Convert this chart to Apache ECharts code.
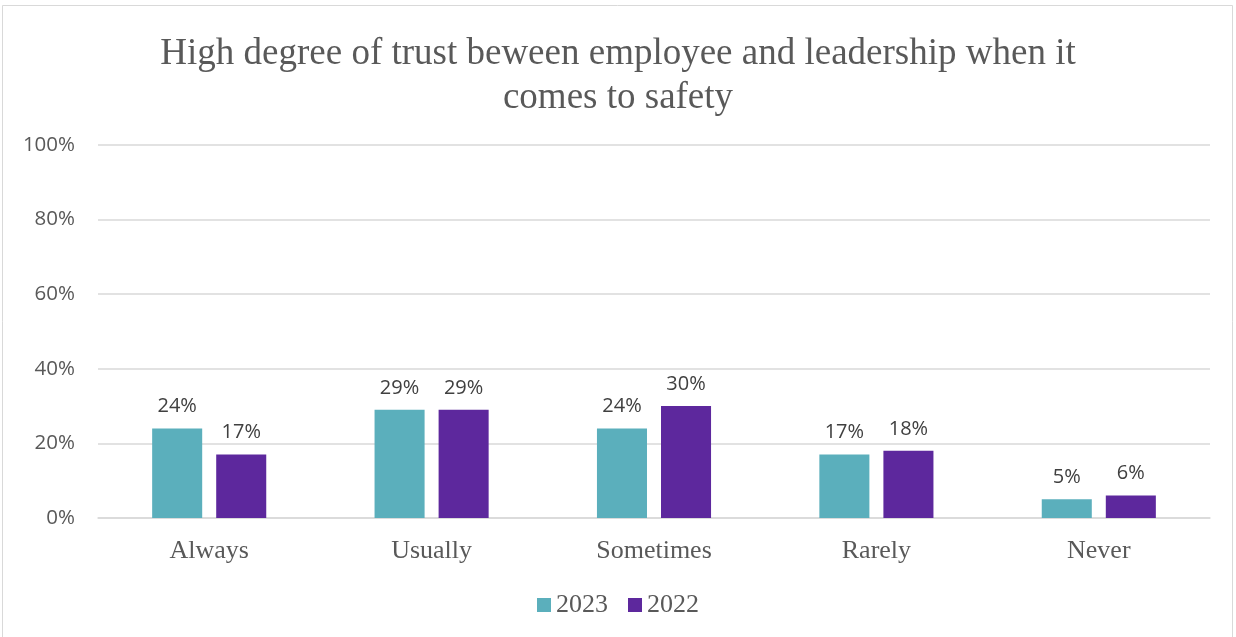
<!DOCTYPE html>
<html>
<head>
<meta charset="utf-8">
<script src="https://cdn.jsdelivr.net/npm/echarts@6/dist/echarts.min.js"></script>
<style>
  html, body { margin: 0; padding: 0; background: #fff; }
  #chart { width: 1236px; height: 637px; }
</style>
</head>
<body>
<div id="chart"></div>
<script>
const categories = ['Always', 'Usually', 'Sometimes', 'Rarely', 'Never'];
const values2023 = [24, 29, 24, 17, 5];
const values2022 = [17, 29, 30, 18, 6];
const yTicks = [0, 20, 40, 60, 80, 100];

const serif = '"Liberation Serif", "DejaVu Serif", serif';
const sans = '"Open Sans", "Liberation Sans", sans-serif';

const chart = echarts.init(document.getElementById('chart'));

const labelStyle = {
  show: true,
  position: 'top',
  distance: 12,
  fontFamily: sans,
  fontSize: 20,
  color: '#404040',
  formatter: p => p.value + '%'
};

chart.setOption({
  animation: false,
  backgroundColor: '#fff',
  graphic: [{
    type: 'rect',
    shape: { x: 2.5, y: 5.5, width: 1230, height: 640 },
    style: { fill: 'none', stroke: '#d9d9d9', lineWidth: 1 },
    silent: true
  }],
  title: {
    text: 'High degree of trust beween employee and leadership when it\ncomes to safety',
    left: 'center',
    top: 27,
    textStyle: {
      fontFamily: serif,
      fontWeight: 'normal',
      fontSize: 37,
      color: '#595959',
      lineHeight: 44
    }
  },
  legend: {
    data: ['2023', '2022'],
    bottom: 14,
    left: 'center',
    icon: 'rect',
    itemWidth: 14,
    itemHeight: 14,
    itemGap: 20,
    textStyle: { fontFamily: serif, fontSize: 26, color: '#595959', padding: [0, 0, 0, 0] }
  },
  grid: { left: 98, right: 26, top: 145, bottom: 119, containLabel: false },
  xAxis: {
    type: 'category',
    data: categories,
    axisLine: { lineStyle: { color: '#d9d9d9', width: 1.5 } },
    axisTick: { show: false },
    axisLabel: { fontFamily: serif, fontSize: 26, color: '#595959', margin: 20 }
  },
  yAxis: {
    type: 'value',
    min: yTicks[0],
    max: yTicks[yTicks.length - 1],
    interval: yTicks[1] - yTicks[0],
    axisLine: { show: false },
    axisTick: { show: false },
    splitLine: { lineStyle: { color: '#d9d9d9', width: 1.5 } },
    axisLabel: { fontFamily: sans, fontSize: 20.5, color: '#595959', margin: 23, formatter: v => v + '%' }
  },
  series: [
    {
      name: '2023',
      type: 'bar',
      data: values2023,
      barWidth: '22.5%',
      barGap: '28%',
      itemStyle: { color: '#5bafbc' },
      label: labelStyle
    },
    {
      name: '2022',
      type: 'bar',
      data: values2022,
      barWidth: '22.5%',
      itemStyle: { color: '#5d289d' },
      label: labelStyle
    }
  ]
});
</script>
</body>
</html>
